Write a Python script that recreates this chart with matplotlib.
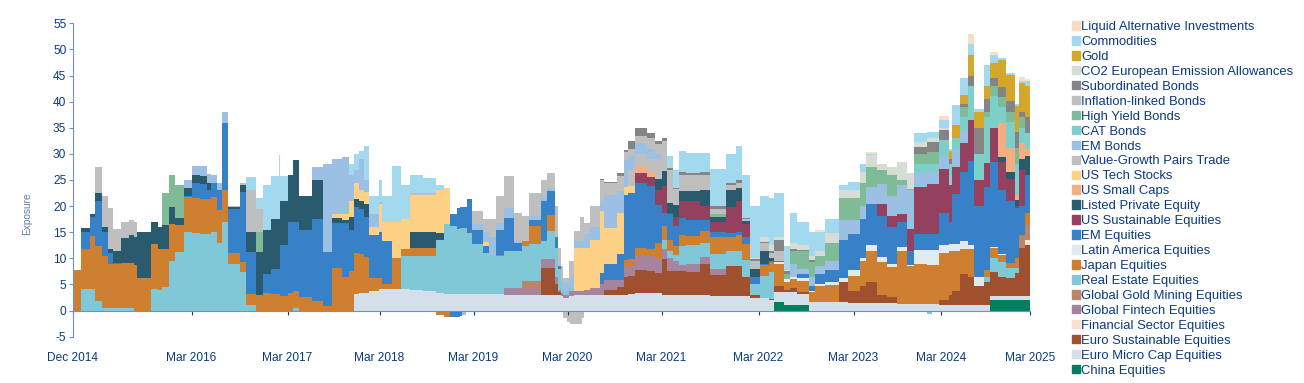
import numpy as np
import matplotlib
matplotlib.use("Agg")
import matplotlib.pyplot as plt
from matplotlib.patches import Patch

plt.rcParams['font.family'] = ['Liberation Sans', 'DejaVu Sans']
plt.rcParams['axes.unicode_minus'] = False

TEXT = '#0b3a80'
AXIS = '#6d93c6'

# x unit is the observation number, each series is (first obs, exposure) held until the next pair
tick_obs = [0, 119, 215, 307, 401, 495, 589, 686, 781, 868.5, 957.5]
tick_labels = ['Dec 2014', 'Mar 2016', 'Mar 2017', 'Mar 2018', 'Mar 2019', 'Mar 2020',
               'Mar 2021', 'Mar 2022', 'Mar 2023', 'Mar 2024', 'Mar 2025']
last_obs = 958

china = [(701,1.6),(711,1.1),(736,0),(917.5,2)]
euro_micro = [(281,3.2),(286,3.3),(291,3.4),(296,3.7),(306,4.2),(337,4.0),(350,3.8),(363,3.3),(371,3.1),
              (431,3.0),(488,2.8),(490,2.5),(496,2.8),(501,2.9),(555,3.1),(562,3.3),(589,3.0),(613,2.9),
              (637,2.8),(677,2.5),(687,2.4),(696,2.0),(701,1.9),(711,2.4),(724,2.1),(736,1.7),(766,1.6),
              (775,1.5),(824,1.2),(866,1.1),(917,0.8)]
euro_sust = [(468,5.2),(482,2),(485,.5),(488,0),(531,1),(544,1.7),(551,3.5),(562.5,4.4),(574,4.2),(582.5,3.9),
             (589,6.8),(594,4.5),(627,6),(637,4),(653,5.8),(669,3.6),(677,.4),(687,.1),(696,.2),(701,1.2),
             (711,.5),(717.5,.9),(724,.4),(736,0),(766,3.8),(775,2.3),(787,3.3),(793,3.9),(804,1.4),(814,1.1),
             (824,0),(866.5,.9),(876,1.9),(879,2.7),(887.5,5.9),(895,5.4),(901,3.7),(911,4.3),(917.5,4.5),
             (925,3.7),(933,3.5),(942,4.3),(946,9.2),(952,9.7)]
financial = [(952,1.1)]
fintech = [(431,1.3),(449,1.2),(468,1.6),(482,1.5),(485,.5),(490,.4),(496,.9),(501,.8),(511,1),(517,1.4),
           (527,2.1),(531,2),(544,1.3),(551,1.8),(555,1.9),(562.5,2.7),(574,2.9),(582.5,2.6),(589,1.9),
           (594,2.6),(600,2),(606,1.3),(613,1.5),(627,1.3),(637,1.2),(653,0)]
gold_mining = [(449,1.4),(468,0),(946,2),(952,2.8)]
real_estate = [(8,4.1),(22,1.8),(29,.4),(61,0),(78,4.2),(85,4),(89,4.6),(96,9.5),(102,11.3),(111,15),(119,14.9),
               (127,14.7),(138,15),(144,13),(149,17),(155,9),(167,7.3),(173,1),(183,0),(220,.4),(226,0),
               (328,6.3),(337,6.4),(350,6.6),(363,10.3),(371,13.4),(377.5,13.1),(384,12.5),(387,12.8),(394,11.8),
               (399,9.6),(410,7.9),(416,7.6),(423,7.3),(431,7.1),(449,6.7),(456,7.1),(468,3.5),(474,5.4),(482,5.5),
               (485,4),(488,1.7),(490,.8),(496,.6),(501,0),(589,1.9),(594,1.3),(600,1.2),(606,3.5),(613,3.7),
               (627,2.8),(637,2.9),(669,3.2),(677,2.2),(687,4.2),(696,5.1),(701,0),(911,1),(917.5,2.7),(925,2.8),
               (933,1.8),(942,1),(946,0)]
japan = [(0,7.7),(17,10.2),(22,10.5),(29,10.1),(35,8.5),(48,8.8),(64,6.2),(78,8.5),(85,7.8),(89,7.2),(96,7.1),
         (102,5),(111,6.7),(127,6.6),(138,6.7),(144,6.3),(149,6),(155,2),(173,2.1),(183,3),(190,3.4),(198,3.1),
         (207,2.8),(215,3.3),(226,2.6),(239,1.9),(250,.9),(259,8.2),(269,6.4),(276,7.5),(281,7.8),(286,7.5),
         (291,6.9),(296,2.5),(306,2.1),(309,.8),(319,5.9),(328,1.3),(337,1.5),(363,0),(423,.3),(431,.1),(441,0),
         (449,1),(456,3.5),(468,0),(474,3.1),(482,0),(551,1.4),(562.5,1.6),(574,1.3),(582.5,3.2),(589,2.6),
         (594,2.2),(600,1.6),(606,2.2),(613,1.6),(627,2.3),(637,3.1),(653,2.5),(663,3),(669,3.2),(677,0),
         (687,2.1),(696,2),(701,4.3),(711,1.4),(717.5,1.7),(724,2.1),(736,1.8),(742.5,3.1),(752.5,3.2),(766,.1),
         (775,2.9),(787,4.7),(793,6.1),(804,6.4),(814,5.7),(824,10.3),(834,7.3),(841,7.75),(854,7.45),(866.5,9),
         (876,8.5),(879,7.7),(887.5,4.8),(895,5.3),(901,0),(911,1.3),(917.5,2),(925,1.3),(933,1),(942,2),
         (946,.5),(952,2.2)]
latin_america = [(701,.3),(711,.6),(717.5,.3),(724,.5),(736,.3),(752.5,.5),(766,.8),(775,1),(787,.5),(793,1),
                 (804,.9),(814,.7),(824,.6),(834,.3),(841,2.6),(854,2.9),(866.5,1.5),(876,1.2),(879,1.3),
                 (887.5,1.6),(895,.7),(901,1.6),(911,0),(917.5,.2),(933,0)]
em_equities = [(8,3.2),(17,3.7),(22,8.7),(29,4.5),(35,2.2),(40,.2),(48,0),(111,.3),(119,2.8),(127,3),(134,1.7),
               (138,2.8),(144,3.7),(149,13),(155,8.5),(167,13.4),(173,8.2),(183,0),(190,3.6),(198,4.9),(207,9.7),
               (215,13.7),(220,13.3),(226,12.9),(239,15.6),(250,10.4),(259,8.5),(269,10.3),(276,8),(281,8.8),
               (286,8.7),(291,7.6),(296,8.3),(306,8.7),(309,8.3),(319,0),(377.5,2.2),(384,4.1),(387,4),(394,6.4),
               (399,2.8),(410,1.3),(416,0),(423,4.8),(431,6.3),(441,1.6),(449,0),(456,1.1),(468,7.7),(474,4.6),
               (482,2),(485,.5),(488,0),(527,2.2),(531,3),(544,5),(551,12.5),(555,12.7),(562.5,12.5),(574,12.1),
               (582.5,7.3),(589,2.5),(594,4.8),(600,3.9),(606,3.3),(613,3.2),(627,2),(637,1),(653,.8),(663,.5),
               (669,1.2),(677,1.3),(687,.2),(701,.1),(711,0),(724,.8),(736,1),(742.5,1.9),(752.5,2.4),(766,7.2),
               (775,7),(787,7.5),(793,8),(804,8),(814,7),(824,4.9),(834,2.6),(841,3.2),(866.5,6.1),(876,4.3),
               (879,9.6),(887.5,13.1),(895,16.2),(901,13.6),(911,16),(917.5,16.2),(925,12.2),(933,11.8),(942,9.5),
               (946,5.5),(952,7.3)]
us_sust = [(562.5,1.9),(574,1.7),(582.5,2.7),(589,5.1),(594,.3),(600,1.8),(606,3.2),(613,3.5),(627,2.7),(637,2),
           (653,5),(663,6),(669,2.6),(677,0),(804,2.3),(814,2.2),(824,1.5),(834,4.3),(841,9),(854,9.5),(866.5,8.6),
           (876,7),(879,5.1),(887.5,5.5),(895,7.8),(901,5),(911,4.5),(917.5,6.6),(925,5.5),(933,4.2),(942,.5),
           (946,7),(952,0)]
listed_pe = [(8,.8),(17,.5),(22,1.5),(29,1),(35,.6),(40,2.3),(48,4.7),(56,5.2),(64,8.8),(78,4.3),(85,4.2),(89,4.6),
             (96,3.2),(102,1.5),(138,0),(155,.3),(167,1.3),(173,3.7),(183,8.2),(190,8.5),(198,9.5),(207,8.5),
             (215,9),(220,11.8),(226,6.5),(239,7.5),(250,0),(259,1.1),(269,.7),(276,2.4),(281,1.5),(291,2.6),
             (296,0),(337,3.1),(363,1.3),(371,0),(582.5,2.1),(589,2.9),(594,1.9),(600,2.3),(606,1.9),(613,2),
             (627,3),(637,1),(653,3.2),(663,2.5),(669,.6),(677,1.6),(687,2.5),(696,.5),(701,0),(925,.9),(933,1.5),
             (942,1),(946,2),(952,3.6)]
us_small = [(562.5,1.3),(574,1),(582.5,0),(925,6.5),(933,4.5),(942,1),(946,3),(952,1.5)]
us_tech = [(259,.6),(269,1.1),(276,3.1),(281,3.2),(286,2),(291,2.2),(296,1.5),(306,5.5),(309,3.7),(319,6.9),
           (328,5.8),(337,7.2),(363,8.1),(371,7),(377.5,0),(410,.9),(416,0),(501,8.3),(511,8.1),(517,9.3),
           (527,11.8),(531,7),(544,7.7),(551,1.5),(555,1.2),(562.5,0)]
value_growth = [(22,5),(29,6),(35,7.9),(40,4.2),(48,3),(64,0),(173,8),(183,0),(555,3.2),(562.5,2.3),(574,2.5),
                (582.5,3.9),(589,4.3),(594,0)]
em_bonds = [(111,1.5),(119,1.7),(127,1.9),(134,1.7),(138,1.5),(149,2),(155,0),(239,2.4),(250,16.7),(259,10.6),
            (269,10.9),(276,5),(281,2.5),(286,6),(291,2.3),(296,2.5),(306,.3),(309,0),(399,1),(410,1.8),(416,3.3),
            (423,1.3),(431,1.9),(441,.3),(449,0),(456,.8),(468,1),(474,.6),(482,0),(488,1),(490,1.6),(496,2.2),
            (501,1.3),(511,2.6),(517,2.4),(527,2),(531,6.3),(544,4.2),(551,5.2),(555,2.6),(562.5,2),(582.5,1),
            (589,0),(717.5,2.5),(724,1),(736,1.6),(766,3.8),(775,2.6),(787,2.5),(793,3.1),(804,3.8),(824,5.5),
            (834,7.3),(841,2.5),(854,2.3),(876,2),(879,3.2),(887.5,2.3),(895,0)]
cat_bonds = [(841,1.8),(854,1.5),(866.5,3.2),(876,2),(879,2.3),(887.5,2.7),(895,6.5),(901,5),(911,8.8),(917.5,6),
             (925,3),(933,5),(942,6),(946,3)]
high_yield = [(89,6.2),(111,0),(183,3.8),(190,0),(637,.5),(653,0),(711,1),(717.5,2.6),(724,3.4),(736,2.9),(742.5,1.9),
              (752.5,3.5),(766,4.2),(787,4.5),(793,3.9),(804,2.6),(814,3.9),(824,1),(834,.2),(841,2),(854,2.4),
              (866.5,0),(887.5,2),(895,0),(911,1),(917.5,2),(925,2),(942,3),(946,2),(952,0)]
inflation = [(155,.2),(167,.5),(173,0),(183,4.5),(190,0),(337,.3),(363,0),(399,2.5),(416,3.5),(423,5.1),(431,6.1),
             (441,5.4),(449,4.8),(456,4.5),(468,3),(474,2.9),(482,6),(485,3.5),(488,2.5),(490,1),(496,3),(501,1.9),
             (507,4.7),(511,2.2),(517,4),(531,2.2),(544,2.9),(551,1.5),(555,1.3),(562.5,1.4),(574,2),(582.5,1.8),
             (589,1.5),(594,6.4),(600,2.9),(606,3.1),(613,3),(637,1),(669,.3),(677,1.5),(696,1),(701,2),(711,0)]
subordinated = [(527,.2),(531,.3),(544,.6),(551,.5),(555,1.6),(574,1),(582.5,.7),(589,.5),(594,.3),(606,.6),(613,.5),
                (669,.3),(677,.4),(687,.2),(696,.4),(701,2.1),(711,.5),(717.5,.3),(724,.2),(736,.3),(742.5,0),
                (841,1.3),(854,1.9),(866.5,1.8),(876,1),(879,0),(887.5,.6),(895,2),(901,5),(911,2.5),(917.5,1.5),
                (925,2),(942,3),(946,1),(952,3)]
co2 = [(677,.1),(687,.8),(696,1.1),(701,.6),(711,.2),(717.5,1.1),(724,1),(736,.9),(742.5,1),(752.5,1.9),(766,1.5),
       (787,2),(793,2.2),(804,1.2),(814,1.6),(824,3.5),(834,3.1),(841,1),(854,.7),(866.5,.5),(876,0)]
gold = [(876,1.5),(879,2.5),(887.5,1.6),(895,4),(901,3),(911,2.5),(917.5,2.9),(925,5),(946,5.5),(952,6)]
commodities = [(173,2.5),(183,2),(190,8.5),(198,8.2),(206,12.3),(207,4.8),(215,0),(276,2),(281,3),(286,1.5),(291,6.5),
               (296,3.5),(306,4.2),(309,5),(319,10.7),(328,6.5),(337,3.5),(350,2.8),(363,1),(371,0),(594,2.3),
               (600,3.5),(606,4),(613,3.7),(637,7.2),(653,5.5),(663,6.5),(669,8.2),(677,10),(687,8),(696,9),(701,8.4),
               (711,4.7),(717.5,5.8),(724,4.4),(736,4.5),(742.5,3.5),(752.5,2.8),(766,1),(775,1.6),(787,1.5),(793,.3),
               (804,0),(841,1.6),(854,1.2),(866.5,1.4),(876,.5),(879,3.9),(887.5,3.3),(895,2),(901,.6),(911,4),
               (917.5,1.6),(925,.5),(933,.3),(942,.5),(952,1)]
liquid_alt = [(742.5,.5),(752.5,0),(793,.3),(804,0),(866.5,.9),(876,0),(895,2),(901,0),(917.5,.5),(925,0),(946,.7),(952,.3)]

# short positions stack below zero
japan_short = [(363,-.8),(371,-1.2),(377.5,-.2),(387.5,0)]
em_short = [(377.5,-1),(389,0)]
em_bonds_short = [(389,-.9),(393.5,0)]
inflation_short = [(490,-1.4),(494,-2.2),(497,-2.5),(509,-1.5),(511,0),(826,-.3),(844,0)]
real_estate_short = [(854,-.6),(859,0)]
gold_short = [(884,-.15),(894,0)]

# bottom of the stack first
names = ['China Equities', 'Euro Micro Cap Equities', 'Euro Sustainable Equities', 'Financial Sector Equities',
         'Global Fintech Equities', 'Global Gold Mining Equities', 'Real Estate Equities', 'Japan Equities',
         'Latin America Equities', 'EM Equities', 'US Sustainable Equities', 'Listed Private Equity', 'US Small Caps',
         'US Tech Stocks', 'Value-Growth Pairs Trade', 'EM Bonds', 'CAT Bonds', 'High Yield Bonds',
         'Inflation-linked Bonds', 'Subordinated Bonds', 'CO2 European Emission Allowances', 'Gold', 'Commodities',
         'Liquid Alternative Investments']
series = [china, euro_micro, euro_sust, financial, fintech, gold_mining, real_estate, japan, latin_america,
          em_equities, us_sust, listed_pe, us_small, us_tech, value_growth, em_bonds, cat_bonds, high_yield,
          inflation, subordinated, co2, gold, commodities, liquid_alt]
colors = ['#007f5f', '#d5dfe9', '#9e502f', '#fce0cf', '#a6849d', '#b9866d', '#80c8d7', '#ce7f2f', '#e3eaee', '#3681c8',
          '#94405f', '#2a5a6e', '#f5ae84', '#fdd286', '#bfbfbf', '#9cbfe4', '#7dcfca', '#80bb97', '#bfbfbf', '#848484',
          '#d5ddd5', '#d4a72c', '#a2d9ee', '#fcdcc6']
shorts = [japan_short, em_short, em_bonds_short, inflation_short, real_estate_short, gold_short]
short_colors = ['#ce7f2f', '#3681c8', '#9cbfe4', '#bfbfbf', '#80c8d7', '#d4a72c']


def hold(points, grid):
    obs = np.array([p[0] for p in points])
    vals = np.array([p[1] for p in points])
    idx = np.searchsorted(obs, grid, side='right') - 1
    return np.where(idx >= 0, vals[idx.clip(0)], 0.0)


breaks = {last_obs}
for s in series + shorts:
    breaks.update(p[0] for p in s)
grid = np.array(sorted(breaks))

fig = plt.figure(figsize=(13.04, 3.83), dpi=100)
ax = fig.add_axes([72.5 / 1304, 1 - 336.7 / 383, 957.5 / 1304, 313.4 / 383])

ax.stackplot(grid, [hold(s, grid) for s in series], colors=colors, step='post', linewidth=0)
ax.stackplot(grid, [hold(s, grid) for s in shorts], colors=short_colors, step='post', linewidth=0)

ax.set_xlim(0, 957.5)
ax.set_ylim(-5, 55)
ax.set_yticks(range(-5, 60, 5))
ax.set_xticks(tick_obs)
ax.set_xticklabels(tick_labels)

for side in ['top', 'right']:
    ax.spines[side].set_visible(False)
ax.spines['bottom'].set_position(('data', 0))
ax.spines['bottom'].set_color(AXIS)
ax.spines['left'].set_color(AXIS)
ax.tick_params(axis='y', colors=AXIS, labelcolor=TEXT, labelsize=8.6, length=3, width=0.8, pad=1.5)
ax.tick_params(axis='x', colors=TEXT, labelcolor=TEXT, labelsize=8.6, length=3, width=0.8, pad=27)

fig.text(27 / 1304, 1 - 214 / 383, 'Exposure', rotation=90, ha='center', va='center', fontsize=7.3, color='#5f7fa8')

handles = [Patch(color=c, label=n) for c, n in zip(colors[::-1], names[::-1])]
fig.legend(handles=handles, loc='upper left', bbox_to_anchor=(1072 / 1304, 1 - 21 / 383), frameon=False,
           fontsize=9.4, labelcolor=TEXT, labelspacing=0.225, handlelength=0.62, handleheight=0.62, handletextpad=0.1,
           borderpad=0, borderaxespad=0)

plt.savefig("out.png", dpi=100)
